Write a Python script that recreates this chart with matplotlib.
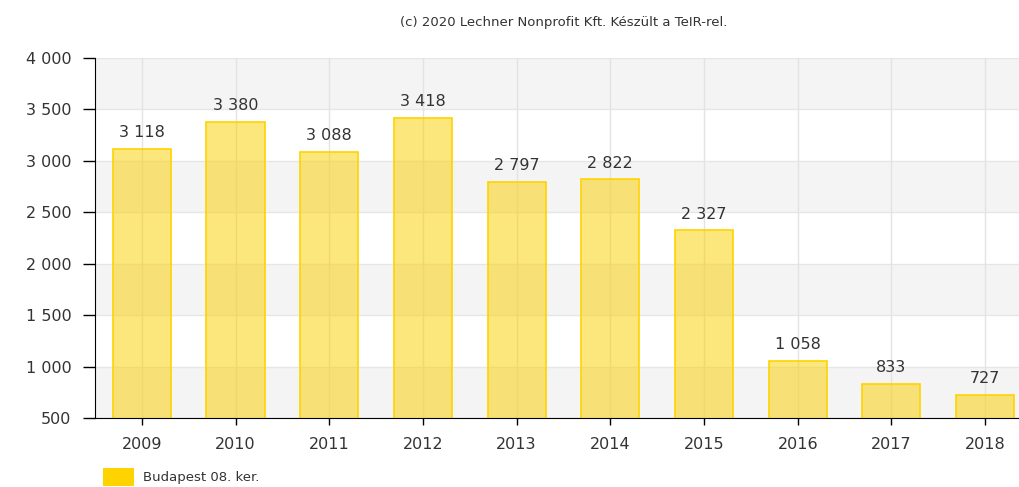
import matplotlib
matplotlib.use("Agg")
from matplotlib import pyplot as plt
from matplotlib.patches import Patch
from matplotlib.ticker import FuncFormatter


# Data
years = ['2009', '2010', '2011', '2012', '2013', '2014', '2015', '2016', '2017', '2018']
values = [3118, 3380, 3088, 3418, 2797, 2822, 2327, 1058, 833, 727]
series_name = 'Budapest 08. ker.'
credit = '(c) 2020 Lechner Nonprofit Kft. Készült a TeIR-rel.'
y_ticks = [500, 1000, 1500, 2000, 2500, 3000, 3500, 4000]


def hu_num(v, pos=None):
    # thousands separated by a space
    return f'{int(v):,}'.replace(',', ' ')


text_color = '#333333'
plt.rcParams['font.family'] = ['DejaVu Sans']

fig = plt.figure(figsize=(10.19, 4.87), dpi=100)
ax = fig.add_axes([0.0932, 0.1417, 0.9195, 0.7393])

# alternating bands
for i, lo in enumerate(y_ticks[:-1]):
    if i % 2 == 0:
        ax.axhspan(lo, y_ticks[i + 1], color='#f4f4f4', zorder=0, lw=0)
for t in y_ticks:
    ax.axhline(t, color='#e6e6e6', lw=1, zorder=0.5)

x = range(len(years))
for xi in x:
    ax.axvline(xi, color='#e3e3e3', lw=1, zorder=0.5)

bars = ax.bar(x, values, width=0.62, facecolor=(0.98, 0.82, 0.02, 0.52),
              edgecolor='#ffd300', linewidth=1.2, zorder=2)

for xi, v in zip(x, values):
    ax.annotate(hu_num(v), (xi, v), xytext=(0, 6), textcoords='offset points',
                ha='center', va='bottom', fontsize=11.5, color=text_color)

ax.set_xlim(-0.5, len(years) - 0.5)
ax.set_ylim(500, 4000)
ax.set_yticks(y_ticks)
ax.yaxis.set_major_formatter(FuncFormatter(hu_num))
ax.set_xticks(list(x))
ax.set_xticklabels(years)

for s in ['top', 'right']:
    ax.spines[s].set_visible(False)
ax.spines['left'].set_color('black')
ax.spines['bottom'].set_color('black')
ax.tick_params(axis='y', length=9, width=1, pad=8, labelsize=11.5, labelcolor=text_color)
ax.tick_params(axis='x', length=5, width=1, pad=9, labelsize=11.5, labelcolor=text_color)

ax.set_title(credit, fontsize=9.5, color=text_color, pad=23)

fig.legend(handles=[Patch(facecolor='#ffd300', edgecolor='none')], labels=[series_name],
           loc='lower left', bbox_to_anchor=(0.089, -0.022), frameon=False,
           fontsize=9.5, handlelength=2.4, handleheight=1.7, handletextpad=0.7,
           labelcolor=text_color)

fig.savefig('out.png', dpi=100)
